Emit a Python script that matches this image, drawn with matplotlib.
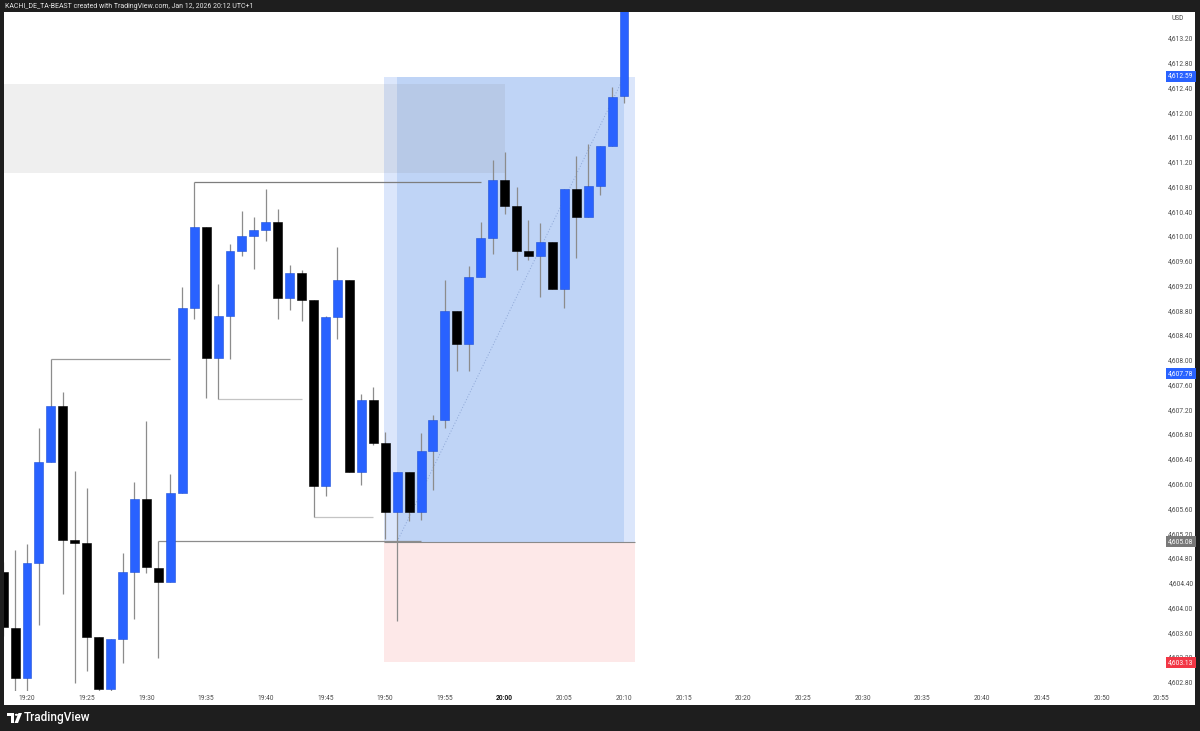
import matplotlib
matplotlib.use('Agg')
import matplotlib.pyplot as plt
import matplotlib.transforms as mtransforms
from matplotlib.patches import Rectangle, Polygon, Circle

plt.rcParams['font.family'] = ['Roboto', 'DejaVu Sans']

# 1-minute candles, x = minutes after 19:20
minutes = list(range(-2, 51))
opens = [4604.59, 4603.69, 4602.87, 4604.74, 4606.36, 4607.27, 4605.11, 4605.06, 4603.54, 4602.70,
         4603.50, 4604.59, 4605.76, 4604.66, 4604.43, 4605.87, 4608.86, 4610.16, 4608.04, 4608.73,
         4609.78, 4610.02, 4610.11, 4610.24, 4609.01, 4609.42, 4608.99, 4605.97, 4608.70, 4609.31,
         4606.21, 4607.37, 4606.68, 4605.56, 4606.20, 4605.56, 4606.54, 4607.05, 4608.80, 4608.27,
         4609.35, 4609.98, 4610.92, 4610.50, 4609.77, 4609.69, 4609.92, 4609.16, 4610.78, 4610.33,
         4610.82, 4611.47, 4612.27]
highs = [4604.75, 4604.94, 4605.04, 4606.91, 4608.03, 4607.50, 4606.22, 4605.95, 4603.54, 4603.50,
         4604.89, 4606.04, 4607.02, 4605.09, 4606.17, 4609.20, 4610.89, 4610.16, 4609.24, 4609.89,
         4610.42, 4610.33, 4610.78, 4610.45, 4609.55, 4609.47, 4608.99, 4608.73, 4609.84, 4609.31,
         4607.46, 4607.58, 4606.85, 4606.20, 4606.20, 4606.83, 4607.13, 4609.31, 4608.80, 4609.53,
         4610.24, 4611.24, 4611.38, 4610.80, 4610.27, 4610.23, 4609.92, 4610.78, 4611.31, 4611.51,
         4611.47, 4612.43, 4614.30]
lows = [4603.55, 4602.55, 4602.55, 4603.73, 4606.36, 4604.23, 4602.80, 4602.99, 4602.60, 4602.60,
        4603.12, 4603.83, 4604.58, 4603.20, 4604.43, 4605.87, 4608.68, 4607.40, 4607.38, 4608.03,
        4609.70, 4609.48, 4609.94, 4608.67, 4608.82, 4608.65, 4605.47, 4605.82, 4608.36, 4606.21,
        4606.00, 4606.64, 4605.12, 4603.79, 4605.41, 4605.43, 4605.91, 4606.91, 4607.83, 4607.83,
        4609.35, 4609.72, 4610.37, 4609.46, 4609.63, 4609.03, 4609.16, 4608.85, 4609.66, 4610.33,
        4610.68, 4611.47, 4612.16]
closes = [4603.70, 4602.87, 4604.74, 4606.36, 4607.27, 4605.11, 4605.06, 4603.54, 4602.70, 4603.50,
          4604.59, 4605.76, 4604.67, 4604.43, 4605.87, 4608.86, 4610.16, 4608.04, 4608.73, 4609.78,
          4610.02, 4610.11, 4610.24, 4609.01, 4609.42, 4608.98, 4605.97, 4608.70, 4609.31, 4606.21,
          4607.37, 4606.68, 4605.56, 4606.20, 4605.56, 4606.54, 4607.04, 4608.80, 4608.27, 4609.35,
          4609.98, 4610.92, 4610.50, 4609.77, 4609.69, 4609.92, 4609.16, 4610.78, 4610.33, 4610.82,
          4611.47, 4612.26, 4614.20]

# long position tool
entry_price = 4605.08
target_price = 4612.59
stop_price = 4603.13
pos_start, pos_end = 29.9, 50.9
entry_min, exit_min = 31, 50

# supply zone box
zone_low, zone_high = 4611.04, 4612.47
zone_start, zone_end = -3, 40

# horizontal level lines: (start min, end min, price, colour)
levels = [(2, 12, 4608.03, '#9a9a9a'),
          (14, 38, 4610.89, '#7d7d7d'),
          (16, 23, 4607.38, '#c4c4c4'),
          (24, 29, 4605.47, '#c4c4c4'),
          (11, 33, 4605.09, '#8c8c8c')]

price_ticks = [4602.80, 4603.20, 4603.60, 4604.00, 4604.40, 4604.80, 4605.20, 4605.60, 4606.00,
               4606.40, 4606.80, 4607.20, 4607.60, 4608.00, 4608.40, 4608.80, 4609.20, 4609.60,
               4610.00, 4610.40, 4610.80, 4611.20, 4611.60, 4612.00, 4612.40, 4612.80, 4613.20]
time_ticks = [0, 5, 10, 15, 20, 25, 30, 35, 40, 45, 50, 55, 60, 65, 70, 75, 80, 85, 90, 95]
time_labels = ['19:20', '19:25', '19:30', '19:35', '19:40', '19:45', '19:50', '19:55', '20:00', '20:05',
               '20:10', '20:15', '20:20', '20:25', '20:30', '20:35', '20:40', '20:45', '20:50', '20:55']

# price tags on the axis: (price, text, colour)
tags = [(4612.60, '4,612.59', '#2962ff'),
        (4607.80, '4,607.78', '#2962ff'),
        (4605.08, '4,605.08', '#787878'),
        (4603.13, '4,603.13', '#f23645')]

W, H = 1200, 731
fig = plt.figure(figsize=(12, 7.31), dpi=100)
fig.patch.set_facecolor('#1e1e1e')

# white chart panel incl. time axis strip
fig.add_artist(Rectangle((4 / W, 1 - 705 / H), 1191 / W, 693 / H, transform=fig.transFigure,
                         facecolor='white', edgecolor='none', zorder=0))

ax = fig.add_axes([4 / W, 1 - 691 / H, 1191 / W, 679 / H])
ax.set_facecolor('white')
ax.set_xlim(-1.926, 97.82)
ax.set_ylim(4602.666, 4613.635)
for s in ax.spines.values():
    s.set_visible(False)
ax.set_xticks([])
ax.set_yticks([])

# position tool
ax.add_patch(Rectangle((pos_start, entry_price), pos_end - pos_start, target_price - entry_price,
                       facecolor='#dbe6fb', edgecolor='none', zorder=1))
ax.add_patch(Rectangle((entry_min, entry_price), exit_min - entry_min, target_price - entry_price,
                       facecolor='#bfd4f6', edgecolor='none', zorder=1.1))
ax.add_patch(Rectangle((pos_start, stop_price), pos_end - pos_start, entry_price - stop_price,
                       facecolor='#fde8e8', edgecolor='none', zorder=1))
ax.hlines(entry_price, pos_start, pos_end, color='#8a8a8a', lw=0.8, zorder=2)
ax.plot([entry_min, exit_min], [entry_price, target_price], color='#8da6d6', lw=0.7,
        ls=(0, (1, 2)), zorder=2)

# supply zone
ax.add_patch(Rectangle((zone_start, zone_low), zone_end - zone_start, zone_high - zone_low,
                       facecolor='#808080', alpha=0.12, edgecolor='none', zorder=1.5))

for x0, x1, p, c in levels:
    ax.hlines(p, x0, x1, color=c, lw=0.9, zorder=2.5)

# candles
for m, o, h, l, c in zip(minutes, opens, highs, lows, closes):
    up = c >= o
    ax.vlines(m, l, h, color='#8c8c8c', lw=0.9, zorder=3)
    body = max(abs(c - o), 0.05)
    ax.bar(m, body, bottom=min(o, c), width=0.75,
           color='#2962ff' if up else '#000000',
           edgecolor='#1e4fd6' if up else '#000000', linewidth=0.4, zorder=4)

# price axis labels
ytr = mtransforms.blended_transform_factory(ax.transAxes, ax.transData)
label_x = (1181 - 4) / 1191
for p in price_ticks:
    ax.text(label_x, p, f'{p:,.2f}', transform=ytr, ha='center', va='center',
            fontsize=4.8, color='#4a4a4a', zorder=6)
for p, t, c in tags:
    ax.text(label_x, p, t, transform=ytr, ha='center', va='center', fontsize=4.8, color='white',
            zorder=7, bbox=dict(boxstyle='square,pad=0.3', facecolor=c, edgecolor='none'))
fig.text(1178 / W, 1 - 19 / H, 'USD', ha='center', va='center', fontsize=4.8, color='#4a4a4a')

# time axis labels
xtr = mtransforms.blended_transform_factory(ax.transData, ax.transAxes)
for m, t in zip(time_ticks, time_labels):
    ax.text(m, -7 / 679, t, transform=xtr, ha='center', va='center', fontsize=4.8,
            color='#111111' if t == '20:00' else '#4a4a4a',
            fontweight='bold' if t == '20:00' else 'normal', clip_on=False)

# header and footer
fig.text(5 / W, 1 - 6 / H, 'KACHI_DE_TA-BEAST created with TradingView.com, Jan 12, 2026 20:12 UTC+1',
         ha='left', va='center', fontsize=5, color='#e6e6e6')

def px(x, y):
    return (x / W, 1 - y / H)

fig.add_artist(Polygon([px(7, 713), px(14, 713), px(14, 723), px(11, 723), px(11, 716), px(7, 716)],
                       closed=True, transform=fig.transFigure, facecolor='white', edgecolor='none'))
fig.add_artist(Circle(px(16.5, 714.8), 1.7 / W, transform=fig.transFigure, facecolor='white',
                      edgecolor='none'))
fig.add_artist(Polygon([px(18.5, 713), px(22, 713), px(18, 723), px(14.5, 723)],
                       closed=True, transform=fig.transFigure, facecolor='white', edgecolor='none'))
fig.text(24 / W, 1 - 718 / H, 'TradingView', ha='left', va='center', fontsize=8.5,
         color='white', fontweight='medium')

fig.savefig('out.png', dpi=100, facecolor=fig.get_facecolor())
